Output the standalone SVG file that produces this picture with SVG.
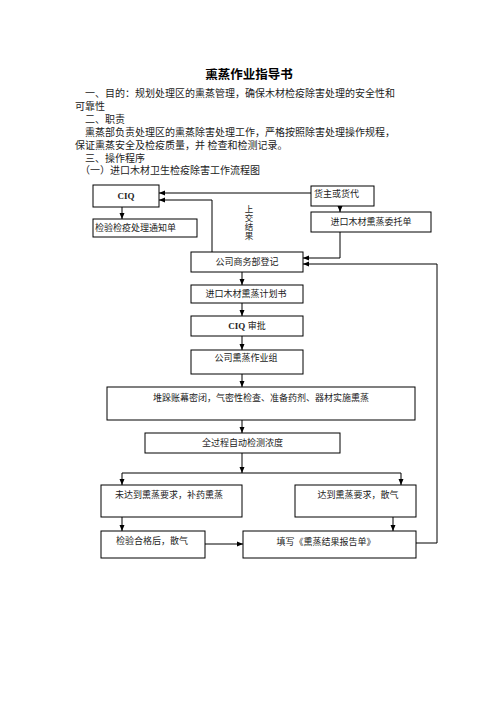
<svg xmlns="http://www.w3.org/2000/svg" width="496" height="702" viewBox="0 0 496 702">
<defs>
<style>
.t{font-family:"Liberation Serif","Noto Sans CJK SC",serif;font-size:10px;fill:#222}
.n{font-family:"Liberation Serif","Noto Sans CJK SC",serif;font-size:9px;fill:#222}
.b{font-weight:bold}
.box{fill:#fff;stroke:#000;stroke-width:1}
.c{fill:none;stroke:#000;stroke-width:1}
</style>
<marker id="ah" markerUnits="userSpaceOnUse" markerWidth="6" markerHeight="6" refX="6" refY="3" orient="auto">
<path d="M0,0.5 L6,3 L0,5.5 z" fill="#000"/>
</marker>
</defs>
<rect width="496" height="702" fill="#fff"/>
<g id="header">
<text x="249" y="79" text-anchor="middle" style="font-family:'Noto Sans CJK SC',sans-serif;font-size:12.5px;font-weight:bold;fill:#000">熏蒸作业指导书</text>
<text class="t" x="85" y="97">一、目的：规划处理区的熏蒸管理，确保木材检疫除害处理的安全性和</text>
<text class="t" x="75" y="110">可靠性</text>
<text class="t" x="85" y="123">二、职责</text>
<text class="t" x="85" y="136">熏蒸部负责处理区的熏蒸除害处理工作，严格按照除害处理操作规程，</text>
<text class="t" x="75" y="149">保证熏蒸安全及检疫质量，并 检查和检测记录。</text>
<text class="t" x="85" y="162">三、操作程序</text>
<text class="t" x="80" y="174">（一）进口木材卫生检疫除害工作流程图</text>
</g>
<g id="connectors">
<line class="c" x1="122" y1="207" x2="122" y2="219" marker-end="url(#ah)"/>
<line class="c" x1="311" y1="193" x2="159" y2="193" marker-end="url(#ah)"/>
<polyline class="c" points="212,252 212,200 159,200" marker-end="url(#ah)"/>
<line class="c" x1="340" y1="206" x2="340" y2="212" marker-end="url(#ah)"/>
<polyline class="c" points="340,232 340,258 303,258" marker-end="url(#ah)"/>
<polyline class="c" points="416,543 437,543 437,264 303,264" marker-end="url(#ah)"/>
<line class="c" x1="242" y1="272" x2="242" y2="285" marker-end="url(#ah)"/>
<line class="c" x1="242" y1="303" x2="242" y2="316" marker-end="url(#ah)"/>
<line class="c" x1="242" y1="336" x2="242" y2="350" marker-end="url(#ah)"/>
<line class="c" x1="242" y1="374" x2="242" y2="387" marker-end="url(#ah)"/>
<line class="c" x1="242" y1="420" x2="242" y2="433" marker-end="url(#ah)"/>
<line class="c" x1="242" y1="453" x2="242" y2="473" marker-end="url(#ah)"/>
<polyline class="c" points="242,473 122,473 122,485" marker-end="url(#ah)"/>
<polyline class="c" points="242,473 401,473 401,485" marker-end="url(#ah)"/>
<line class="c" x1="122" y1="517" x2="122" y2="531" marker-end="url(#ah)"/>
<line class="c" x1="393" y1="512" x2="393" y2="531" marker-end="url(#ah)"/>
<line class="c" x1="205" y1="544" x2="243" y2="544" marker-end="url(#ah)"/>
<g class="n" id="label-shangjiao">
<text x="249" y="212" text-anchor="middle" style="font-size:8.5px">上</text>
<text x="249" y="221" text-anchor="middle" style="font-size:8.5px">交</text>
<text x="249" y="230" text-anchor="middle" style="font-size:8.5px">结</text>
<text x="249" y="239" text-anchor="middle" style="font-size:8.5px">果</text>
</g>
</g>
<g id="ciq">
<rect class="box" x="93" y="185" width="66" height="22"/>
<text class="n b" x="126" y="199" text-anchor="middle">CIQ</text>
</g>
<g id="notice">
<rect class="box" x="93" y="219" width="104" height="18"/>
<text class="n" x="95" y="231">检验检疫处理通知单</text>
</g>
<g id="owner">
<rect class="box" x="311" y="186" width="63" height="20"/>
<text class="n" x="314" y="197">货主或货代</text>
</g>
<g id="entrust">
<rect class="box" x="311" y="212" width="120" height="20"/>
<text class="n" x="371" y="225" text-anchor="middle">进口木材熏蒸委托单</text>
</g>
<g id="register">
<rect class="box" x="191" y="252" width="112" height="20"/>
<text class="n" x="247" y="265" text-anchor="middle">公司商务部登记</text>
</g>
<g id="plan">
<rect class="box" x="191" y="285" width="112" height="18"/>
<text class="n" x="246" y="297" text-anchor="middle">进口木材熏蒸计划书</text>
</g>
<g id="approve">
<rect class="box" x="191" y="316" width="112" height="20"/>
<text class="n" x="247" y="329" text-anchor="middle"><tspan class="b">CIQ</tspan> 审批</text>
</g>
<g id="team">
<rect class="box" x="191" y="350" width="112" height="24"/>
<text class="n" x="246" y="361" text-anchor="middle">公司熏蒸作业组</text>
</g>
<g id="seal">
<rect class="box" x="107" y="387" width="308" height="33"/>
<text class="n" x="261" y="401" text-anchor="middle">堆跺账幕密闭，气密性检查、准备药剂、器材实施熏蒸</text>
</g>
<g id="monitor">
<rect class="box" x="145" y="433" width="195" height="20"/>
<text class="n" x="242.5" y="446" text-anchor="middle">全过程自动检测浓度</text>
</g>
<g id="notreach">
<rect class="box" x="101" y="485" width="141" height="32"/>
<text class="n" x="169" y="498" text-anchor="middle">未达到熏蒸要求，补药熏蒸</text>
</g>
<g id="reach">
<rect class="box" x="295" y="485" width="121" height="32"/>
<text class="n" x="358" y="498" text-anchor="middle">达到熏蒸要求，散气</text>
</g>
<g id="inspect">
<rect class="box" x="101" y="531" width="104" height="27"/>
<text class="n" x="116" y="544">检验合格后，散气</text>
</g>
<g id="report">
<rect class="box" x="243" y="531" width="173" height="27"/>
<text class="n" x="326" y="545" text-anchor="middle">填写《熏蒸结果报告单》</text>
</g>
</svg>
